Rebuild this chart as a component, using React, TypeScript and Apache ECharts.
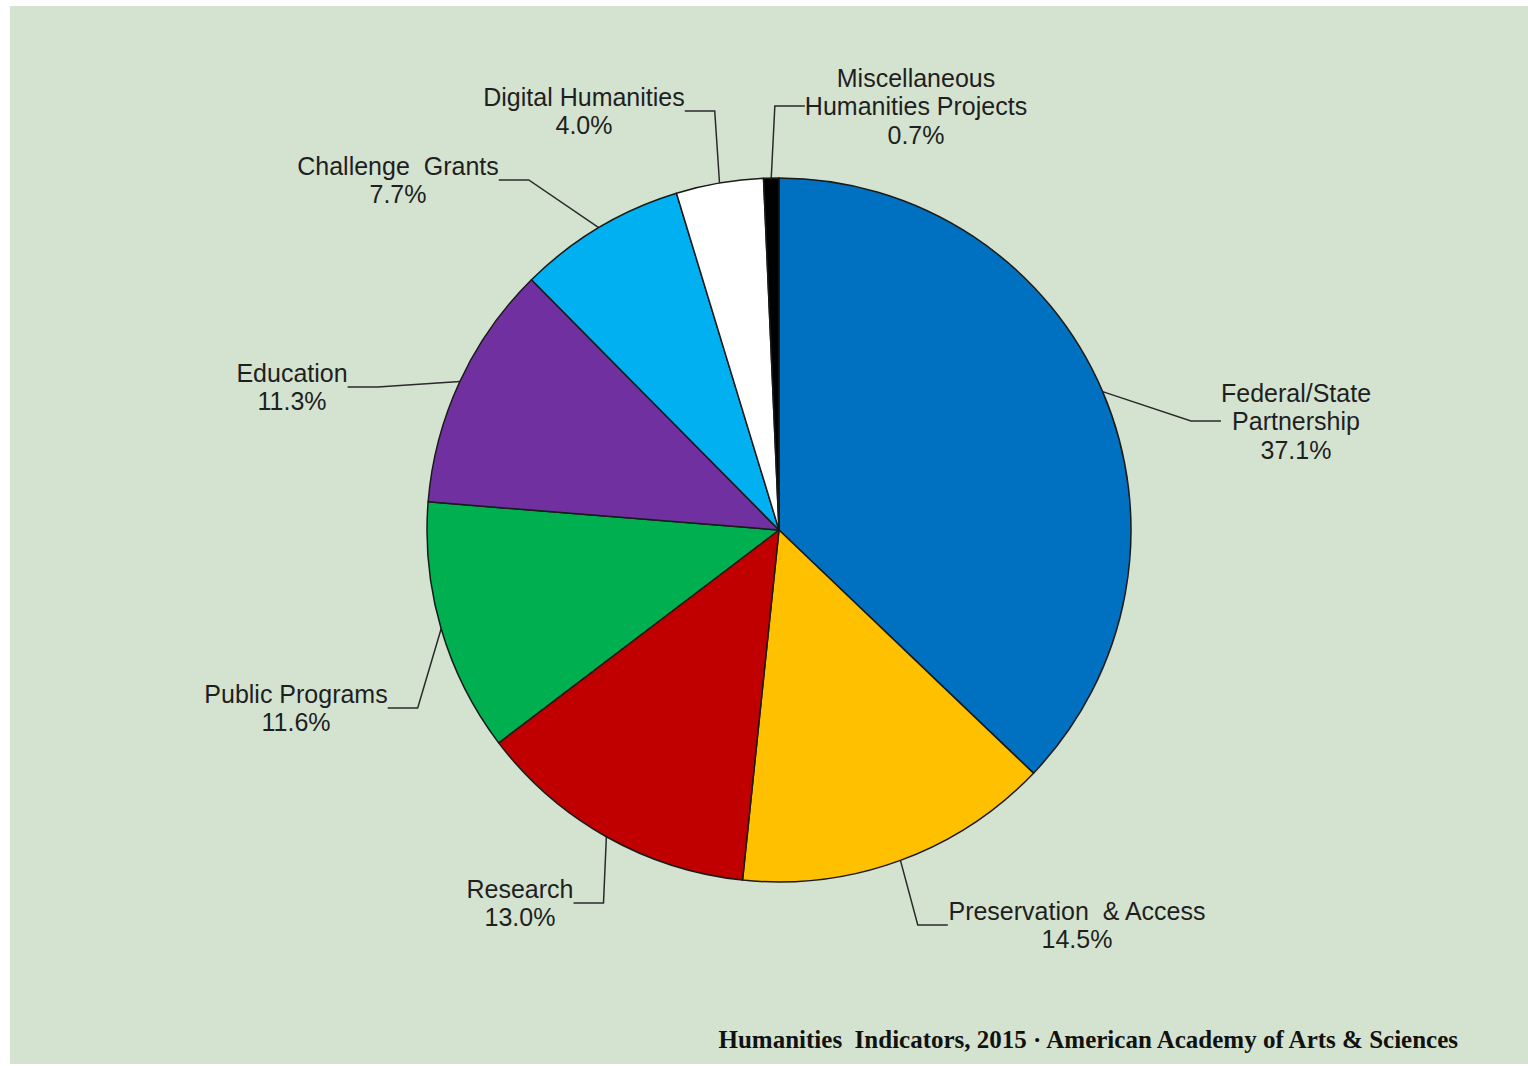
import React, { useEffect, useRef } from "react";
import * as echarts from "echarts";

const categories = [
  "Federal/State\nPartnership",
  "Preservation  & Access",
  "Research",
  "Public Programs",
  "Education",
  "Challenge  Grants",
  "Digital Humanities",
  "Miscellaneous\nHumanities Projects",
];
const shares = [37.1, 14.5, 13.0, 11.6, 11.3, 7.7, 4.0, 0.7];
const colors = ["#0070C0", "#FFC000", "#C00000", "#00B050", "#7030A0", "#00B0F0", "#FFFFFF", "#000000"];
const footer = "Humanities  Indicators, 2015 · American Academy of Arts & Sciences";

// label centre positions (px) in the chart
const labelPos: [number, number][] = [
  [1296, 421],
  [1077, 925],
  [520, 903],
  [296, 708],
  [292, 387],
  [398, 180],
  [584, 111],
  [916, 106],
];

export default function App() {
  const ref = useRef<HTMLDivElement>(null);
  useEffect(() => {
    if (!ref.current) return;
    const chart = echarts.init(ref.current, undefined, { renderer: "svg" });
    chart.setOption({
      animation: false,
      backgroundColor: "#ffffff",
      graphic: [
        {
          type: "rect",
          shape: { x: 10, y: 6, width: 1518, height: 1058 },
          style: { fill: "#d4e3d0" },
          z: -10,
          silent: true,
        },
        {
          type: "text",
          x: 1458,
          y: 1039,
          style: {
            text: footer,
            fill: "#111111",
            font: "bold 25px 'Liberation Serif', 'DejaVu Serif', serif",
            align: "right",
            verticalAlign: "middle",
          },
          silent: true,
        },
      ],
      series: [
        {
          type: "pie",
          center: [779, 530],
          radius: 352,
          startAngle: 90,
          clockwise: true,
          avoidLabelOverlap: false,
          itemStyle: { borderColor: "#1a1a1a", borderWidth: 1.5 },
          label: {
            show: true,
            color: "#1f1f1f",
            fontFamily: "'Liberation Sans', Arial, sans-serif",
            fontSize: 25,
            lineHeight: 28.5,
            align: "center",
            formatter: (p: any) => `${p.name}\n${Number(p.value).toFixed(1)}%`,
          },
          labelLine: {
            show: true,
            lineStyle: { color: "#2a2a2a", width: 1.5 },
          },
          labelLayout: (params: any) => {
            const pos = labelPos[params.dataIndex];
            return { x: pos[0], y: pos[1], align: "center", verticalAlign: "middle" };
          },
          data: categories.map((name, i) => ({
            name,
            value: shares[i],
            itemStyle: { color: colors[i] },
          })),
        },
      ],
    });
    return () => chart.dispose();
  }, []);
  return (
    <div
      ref={ref}
      style={{ position: "absolute", left: 0, top: 0, width: 1528, height: 1066 }}
    />
  );
}
